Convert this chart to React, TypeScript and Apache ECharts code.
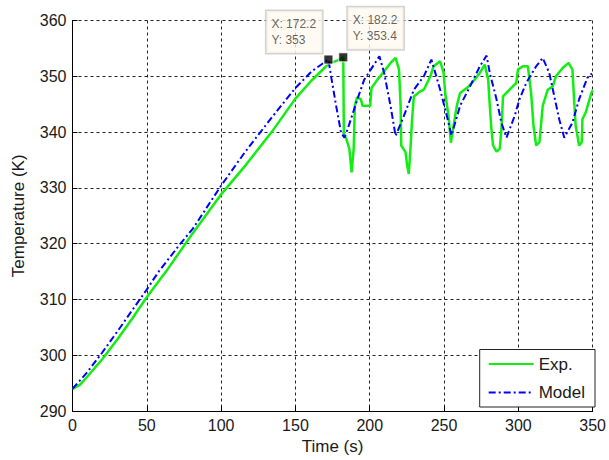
import React, { useEffect, useRef } from "react";
import * as echarts from "echarts";

const xTicks = [0, 50, 100, 150, 200, 250, 300, 350];
const yTicks = [290, 300, 310, 320, 330, 340, 350, 360];

const expTime = [0, 5, 10, 20, 30, 40, 49.7, 62.9, 80.7, 99.6, 116.3, 134, 150, 160.7, 170.7, 172.5, 178, 182.2, 182.6, 184, 186.3, 187.8, 189.2, 190, 191.4, 194, 195.2, 200.3, 201.2, 205.2, 209.7, 214, 217.4, 219.7, 220.8, 221.2, 224.1, 225.2, 226.3, 227.4, 228.5, 229.7, 234.1, 236.4, 240.8, 243, 247.4, 249.7, 250.8, 253, 254.6, 256.4, 258.6, 260.8, 265.3, 269.7, 274.1, 277.4, 279.7, 280.8, 281.9, 283, 285.3, 287.5, 288.6, 289.7, 294.1, 298.6, 299.7, 303.1, 306.4, 308.6, 310.2, 312, 314.2, 316.4, 319.8, 323.1, 325.3, 329.8, 333.8, 336.4, 337.5, 338.6, 340.9, 342.7, 343.1, 345.3, 349.1, 350];
const expTemp = [294, 294.7, 296.2, 299.3, 302.8, 306.5, 310.3, 315, 321.8, 328.7, 334, 340, 346, 349.2, 351.8, 352.3, 352.8, 353.4, 339.3, 339, 337, 332.8, 337, 344.7, 346.2, 345.9, 344.7, 344.7, 347.9, 349.4, 350.9, 352.4, 353.3, 351.2, 344.7, 337.6, 336.4, 334, 332.5, 337, 342.3, 346.4, 347.3, 347.6, 350, 351.8, 352.7, 350.6, 347, 342.9, 338.1, 341.1, 344.7, 347, 347.9, 349.1, 350.6, 352.1, 349.4, 344.7, 340.5, 337.6, 336.5, 337, 340.5, 346.4, 347.6, 348.8, 351.2, 351.8, 351.8, 347, 341.1, 337.6, 338.2, 344.7, 347.6, 348.2, 350, 351.5, 352.4, 351.2, 345.9, 341.1, 337.6, 338.2, 342.3, 343.5, 347, 347.5];

const modelTime = [0, 10, 20, 30, 40, 50, 58, 72, 81, 100, 116, 134, 150, 161, 172.2, 174, 177.4, 180.7, 183, 185.1, 192.1, 196.3, 200.7, 206.5, 209.7, 214, 217.4, 223, 229.7, 236.4, 241.5, 247.4, 251.9, 255, 260.8, 267.5, 274.1, 278.6, 280.8, 285.3, 288.6, 292, 297.5, 300.8, 305.3, 312, 316.4, 320.8, 324.2, 327.5, 330.9, 336.4, 340.9, 346.4, 349.5];
const modelTemp = [294, 297, 300.5, 304.2, 308, 311.8, 315, 319.8, 322.7, 330.4, 336.4, 342.6, 347.9, 350.9, 353, 350, 344.7, 339.9, 339, 340.5, 346.2, 349.4, 351.2, 353.6, 350.6, 344.7, 339.3, 342.9, 347.6, 350, 353, 347.6, 342.9, 339.4, 344.7, 348.2, 351.8, 353.7, 350.6, 345.9, 341.7, 339, 342.9, 345.9, 348.8, 351.8, 353.3, 350.6, 346.4, 342.3, 339, 341.7, 345.9, 349.7, 350.5];

const tipX = [172.2, 182.2];
const tipY = [353, 353.4];

const FONT = "'Liberation Sans', Arial, sans-serif";

export default function App() {
  const ref = useRef<HTMLDivElement>(null);
  useEffect(() => {
    if (!ref.current) return;
    const chart = echarts.init(ref.current, undefined, { renderer: "svg" });
    const expData = expTime.map((t, i) => [t, expTemp[i]]);
    const modelData = modelTime.map((t, i) => [t, modelTemp[i]]);
    const labelPos: any[] = [
      { position: [-57, -1.5], align: "left", verticalAlign: "bottom" },
      { position: [9.5, -3], align: "left", verticalAlign: "bottom" },
    ];
    const tipData = tipX.map((x, i) => ({
      value: [x, tipY[i]],
      label: {
        show: true,
        formatter: `X: ${x}\nY: ${tipY[i]}`,
        ...labelPos[i],
      },
    }));
    chart.setOption({
      animation: false,
      backgroundColor: "#ffffff",
      textStyle: { fontFamily: FONT },
      grid: { left: 72.5, right: 12, top: 20.5, bottom: 46 },
      xAxis: {
        type: "value",
        min: xTicks[0],
        max: xTicks[xTicks.length - 1],
        interval: xTicks[1] - xTicks[0],
        name: "Time (s)",
        nameLocation: "middle",
        nameGap: 26,
        nameTextStyle: { fontSize: 17, color: "#1a1a1a", fontFamily: FONT },
        axisLine: { show: true, onZero: false, lineStyle: { color: "#000", width: 1 } },
        axisTick: { show: true, inside: true, length: 5, lineStyle: { color: "#000" } },
        axisLabel: { fontSize: 16, color: "#1a1a1a", margin: 6, fontFamily: FONT },
        splitLine: { show: true, lineStyle: { color: "#222", type: [3, 3], width: 1 } },
      },
      yAxis: {
        type: "value",
        min: yTicks[0],
        max: yTicks[yTicks.length - 1],
        interval: yTicks[1] - yTicks[0],
        name: "Temperature (K)",
        nameLocation: "middle",
        nameGap: 46,
        nameTextStyle: { fontSize: 17, color: "#1a1a1a", fontFamily: FONT },
        axisLine: { show: true, onZero: false, lineStyle: { color: "#000", width: 1 } },
        axisTick: { show: true, inside: true, length: 5, lineStyle: { color: "#000" } },
        axisLabel: { fontSize: 16, color: "#1a1a1a", margin: 6, fontFamily: FONT },
        splitLine: { show: true, lineStyle: { color: "#222", type: [3, 3], width: 1 } },
      },
      legend: {
        data: ["Exp.", "Model"],
        orient: "vertical",
        right: 14,
        bottom: 53,
        itemWidth: 45,
        itemHeight: 14,
        itemGap: 11.5,
        padding: [6, 10, 6, 8],
        borderColor: "#222",
        borderWidth: 1,
        borderRadius: 0,
        backgroundColor: "#ffffff",
        itemStyle: { opacity: 0 },
        textStyle: { fontSize: 17, lineHeight: 14, color: "#1a1a1a", fontFamily: FONT },
      },
      series: [
        {
          name: "Exp.",
          type: "line",
          data: expData,
          showSymbol: false,
          symbol: "none",
          lineStyle: { color: "#11ee11", width: 2.5 },
          itemStyle: { color: "#11ee11" },
          z: 3,
        },
        {
          name: "Model",
          type: "line",
          data: modelData,
          showSymbol: false,
          symbol: "none",
          lineStyle: { color: "#0000ff", width: 2, type: [7, 3, 2, 3] },
          itemStyle: { color: "#0000ff" },
          z: 4,
        },
        {
          name: "tips",
          type: "scatter",
          data: tipData,
          symbol: "rect",
          symbolSize: 9,
          itemStyle: { color: "#000", borderColor: "#fff", borderWidth: 1 },
          z: 10,
          label: {
            show: true,
            fontSize: 12,
            lineHeight: 16,
            color: "#3a3a3a",
            fontFamily: FONT,
            backgroundColor: "#fffaf0",
            borderColor: "#c8c8c8",
            borderWidth: 1.5,
            padding: [5, 6, 5, 5],
          },
          emphasis: { disabled: true },
        },
      ],
    });
    return () => chart.dispose();
  }, []);
  return (
    <div
      ref={ref}
      style={{ position: "fixed", left: 0, top: 0, width: 609, height: 460, background: "#fff" }}
    />
  );
}
